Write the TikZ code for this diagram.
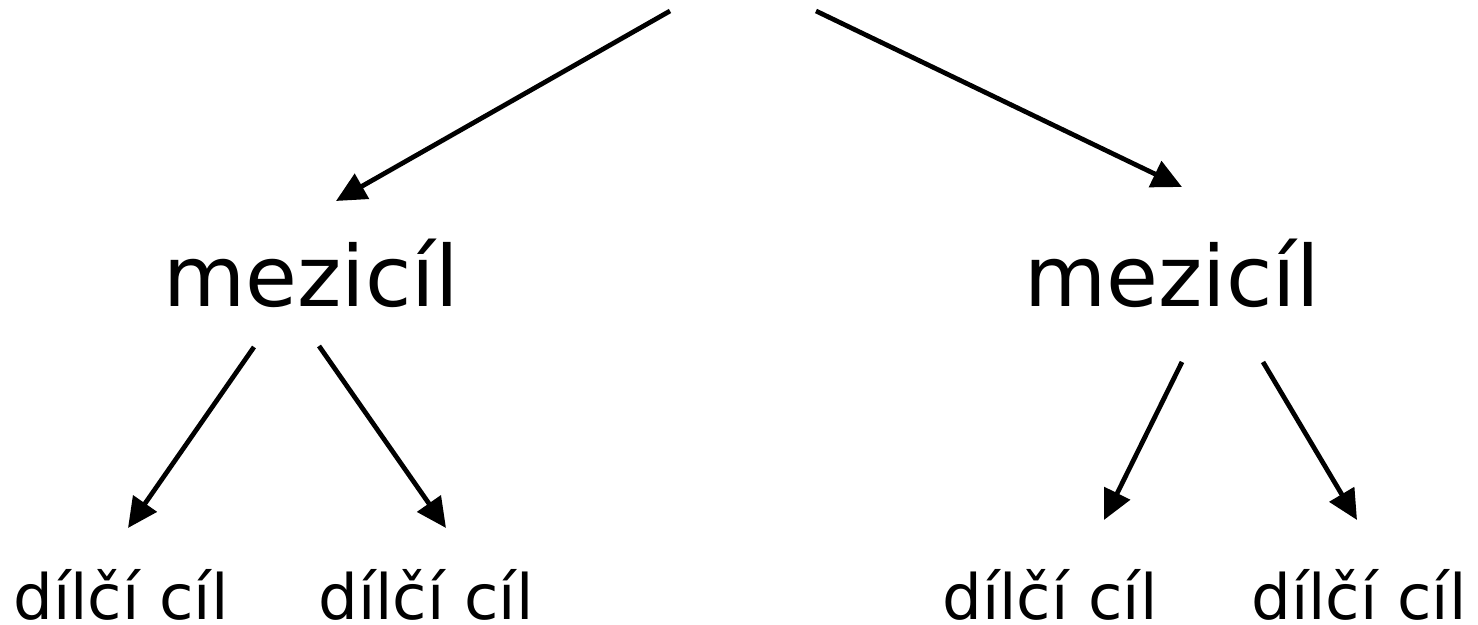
\documentclass[tikz,border=0pt]{standalone}
\usepackage{fontspec}
\setmainfont{DejaVu Sans}
\usetikzlibrary{arrows.meta}

\tikzset{
  goal/.style = {
    inner sep = 0pt,                        % no padding round text
    anchor    = base,                       % place by baseline
    text      = black,                      % label color
    font      = \fontsize{24}{29}\selectfont,%
  },
  subgoal/.style = {
    goal,
    text depth= 0pt,                        % no descenders here
    font      = \fontsize{17.8}{21}\selectfont,%
  },
  link/.style = {
    draw      = black,                      % line color
    line width= 1.35pt,                     % line width
    -{Triangle[length=8.5pt,width=8pt]},    % filled arrow tip
  },
}

\begin{document}
\begin{tikzpicture}[x=0.01cm, y=-0.01cm]
\useasboundingbox (0,0) rectangle (1478,625);

% top and the two intermediate goals
\coordinate (root1) at (670, 11);
\coordinate (root2) at (816, 11);
\node at (311, 307) [goal] (mez1) {mezicíl};
\node at (1172, 307) [goal] (mez2) {mezicíl};

% ends of the arrows below each goal
\coordinate (m1a) at (254, 347);
\coordinate (m1b) at (319, 346);
\coordinate (m2a) at (1182, 362);
\coordinate (m2b) at (1263, 362);

% partial goals
\node at (121, 620) [subgoal] (dc1) {dílčí cíl};
\node at (426, 620) [subgoal] (dc2) {dílčí cíl};
\node at (1050, 620) [subgoal] (dc3) {dílčí cíl};
\node at (1359, 620) [subgoal] (dc4) {dílčí cíl};

\coordinate (t1) at (128, 528);
\coordinate (t2) at (446, 528);
\coordinate (t3) at (1104, 520);
\coordinate (t4) at (1357, 520);
\coordinate (tm1) at (336, 201);
\coordinate (tm2) at (1182, 187);

\draw [link] (root1) -- (tm1);
\draw [link] (root2) -- (tm2);
\draw [link] (m1a) -- (t1);
\draw [link] (m1b) -- (t2);
\draw [link] (m2a) -- (t3);
\draw [link] (m2b) -- (t4);
\end{tikzpicture}
\end{document}
